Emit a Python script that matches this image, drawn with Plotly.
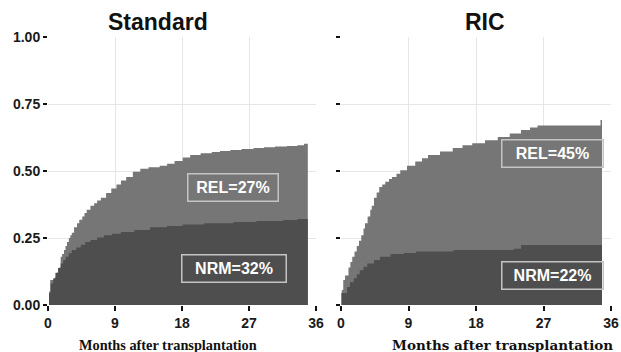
import plotly.graph_objects as go

# ---- data ----
std_total_t = [0, 0.15, 0.3, 1.0, 1.2, 1.5, 1.7, 1.9, 2.15, 2.35, 2.55, 2.8, 3.0, 3.2, 3.5, 3.9, 4.2, 4.6, 4.9, 5.2,
               5.7, 6.2, 6.6, 7.1, 7.8, 8.5, 9.2, 9.8, 10.5, 11.4, 12.4, 13.5, 15.0, 16.0, 17.0, 18.1, 19.1, 20.5, 22.0, 23.1,
               24.5, 26.0, 27.6, 29.0, 30.5, 32.1, 33.5, 34.4, 34.9]
std_total_v = [0, 0.05, 0.093, 0.105, 0.12, 0.14, 0.18, 0.19, 0.205, 0.22, 0.235, 0.25, 0.26, 0.27, 0.29, 0.305, 0.318, 0.33, 0.343, 0.355,
               0.37, 0.38, 0.39, 0.40, 0.418, 0.435, 0.45, 0.465, 0.478, 0.497, 0.508, 0.514, 0.52, 0.527, 0.537, 0.55, 0.56, 0.566, 0.571, 0.575,
               0.578, 0.582, 0.586, 0.589, 0.591, 0.593, 0.596, 0.602, 0.604]

std_nrm_t = [0, 0.13, 0.36, 0.7, 1.0, 1.35, 1.7, 2.05, 2.4, 2.8, 3.2, 3.8, 4.4, 5.0, 5.7, 6.6, 7.5, 8.6, 9.8, 11.6,
             13.7, 16.0, 18.1, 21.0, 24.9, 28.0, 31.6, 33.5, 34.9]
std_nrm_v = [0, 0.045, 0.08, 0.1, 0.12, 0.138, 0.155, 0.168, 0.18, 0.193, 0.205, 0.215, 0.225, 0.235, 0.243, 0.252, 0.26, 0.266, 0.272, 0.28,
             0.29, 0.295, 0.30, 0.305, 0.31, 0.313, 0.317, 0.321, 0.325]

ric_total_t = [0, 0.1, 0.3, 0.54, 1.0, 1.25, 1.5, 1.8, 2.1, 2.4, 2.7, 3.0, 3.2, 3.55, 3.9, 4.1, 4.4, 4.75, 5.1, 5.5,
               5.9, 6.4, 6.8, 7.4, 7.9, 8.8, 9.9, 10.8, 11.6, 13.2, 14.9, 16.2, 17.5, 19.2, 20.9, 22.5, 24.0, 25.2, 26.2, 34.6, 34.8]
ric_total_v = [0, 0.056, 0.093, 0.11, 0.14, 0.16, 0.18, 0.2, 0.22, 0.24, 0.26, 0.285, 0.305, 0.33, 0.355, 0.37, 0.40, 0.42, 0.44, 0.45,
               0.46, 0.47, 0.478, 0.49, 0.503, 0.52, 0.535, 0.548, 0.56, 0.573, 0.586, 0.596, 0.604, 0.615, 0.627, 0.64, 0.653, 0.662, 0.67, 0.69, 0.69]

ric_nrm_t = [0, 0.05, 0.8, 1.2, 1.7, 2.1, 2.5, 3.0, 3.5, 4.4, 5.2, 6.6, 8.4, 10.0, 15.0, 23.0, 24.0, 34.8]
ric_nrm_v = [0, 0.045, 0.067, 0.085, 0.1, 0.115, 0.13, 0.143, 0.155, 0.168, 0.18, 0.19, 0.194, 0.2, 0.205, 0.21, 0.224, 0.224]

panel_titles = ["Standard", "RIC"]
rel_labels = ["REL=27%", "REL=45%"]
nrm_labels = ["NRM=32%", "NRM=22%"]
x_ticks = [0, 9, 18, 27, 36]
y_ticks = [0, 0.25, 0.5, 0.75, 1.0]
y_ticklabels = ["0.00", "0.25", "0.50", "0.75", "1.00"]
x_title = "Months after transplantation"

LIGHT = "#767676"
DARK = "#4e4e4e"
W, H = 621, 352

def px(x):
    return x / W

def py(y):
    return 1 - y / H

fig = go.Figure()

def add_panel(tt, tv, nt, nv, xa, ya):
    fig.add_trace(go.Scatter(x=tt, y=tv, mode="lines", line=dict(width=0, shape="hv"),
                             fill="tozeroy", fillcolor=LIGHT, xaxis=xa, yaxis=ya,
                             hoverinfo="skip", showlegend=False))
    fig.add_trace(go.Scatter(x=nt, y=nv, mode="lines", line=dict(width=0, shape="hv"),
                             fill="tozeroy", fillcolor=DARK, xaxis=xa, yaxis=ya,
                             hoverinfo="skip", showlegend=False))

add_panel(std_total_t, std_total_v, std_nrm_t, std_nrm_v, "x", "y")
add_panel(ric_total_t, ric_total_v, ric_nrm_t, ric_nrm_v, "x2", "y2")

tickfont = dict(family="Liberation Sans", size=14, color="#1a1a1a", weight="bold")
common_x = dict(range=[0, 36], tickvals=x_ticks, ticktext=[str(v) for v in x_ticks],
                showgrid=True, gridcolor="#e6e6e6", gridwidth=1, zeroline=False,
                ticks="outside", ticklen=5, tickwidth=2, tickcolor="#111",
                tickfont=tickfont, showline=False, automargin=False, fixedrange=True)
common_y = dict(range=[0, 1], tickvals=y_ticks, ticktext=y_ticklabels,
                showgrid=True, gridcolor="#e6e6e6", gridwidth=1, zeroline=False,
                ticks="outside", ticklen=4, tickwidth=2, tickcolor="#111",
                tickfont=tickfont, showline=False, automargin=False, fixedrange=True)

yd = [py(305), py(37)]
fig.update_layout(
    width=W, height=H,
    margin=dict(l=0, r=0, t=0, b=0),
    paper_bgcolor="white", plot_bgcolor="white",
    xaxis=dict(domain=[px(48), px(316)], anchor="y", **common_x),
    yaxis=dict(domain=yd, anchor="x", **common_y),
    xaxis2=dict(domain=[px(341), px(611)], anchor="y2", **common_x),
    yaxis2=dict(domain=yd, anchor="x2", showticklabels=False, **common_y),
)

annos = []
titlefont = dict(family="Liberation Sans", size=23, color="#111", weight="bold")
annos.append(dict(text=panel_titles[0], x=px(158), y=py(22), xref="paper", yref="paper",
                  xanchor="center", yanchor="middle", showarrow=False, font=titlefont))
annos.append(dict(text=panel_titles[1], x=px(485), y=py(22), xref="paper", yref="paper",
                  xanchor="center", yanchor="middle", showarrow=False, font=titlefont))
annos.append(dict(text=x_title, x=px(168), y=py(345), xref="paper", yref="paper",
                  xanchor="center", yanchor="middle", showarrow=False,
                  font=dict(family="Liberation Serif", size=14.3, color="#111", weight="bold")))
annos.append(dict(text=x_title, x=px(502), y=py(345), xref="paper", yref="paper",
                  xanchor="center", yanchor="middle", showarrow=False,
                  font=dict(family="DejaVu Serif", size=13.5, color="#111", weight="bold")))

boxfont = dict(family="Liberation Sans", size=16, color="white", weight="bold")
def box(text, x, y, xr, yr, w):
    return dict(text=text, x=x, y=y, xref=xr, yref=yr, xanchor="center", yanchor="middle",
                showarrow=False, font=boxfont, bordercolor="#c4c4c4", borderwidth=1.5,
                borderpad=0, width=w, height=26, align="center")

annos.append(box(rel_labels[0], 24.9, 0.44, "x", "y", 89))
annos.append(box(nrm_labels[0], 25.0, 0.138, "x", "y", 103))
annos.append(box(rel_labels[1], 28.2, 0.565, "x2", "y2", 100))
annos.append(box(nrm_labels[1], 28.2, 0.11, "x2", "y2", 100))

fig.update_layout(annotations=annos)

fig.write_html("out.html", config={"displayModeBar": False},
               post_script="document.body.style.margin='0';document.body.style.overflow='hidden';")
